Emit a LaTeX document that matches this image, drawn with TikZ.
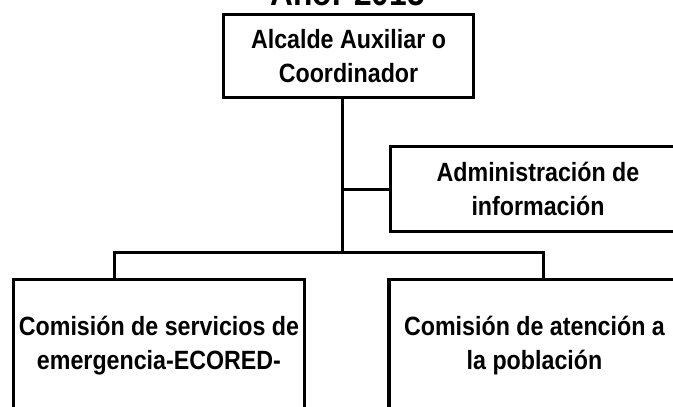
\documentclass[tikz,border=0pt]{standalone}
\usepackage{fontspec}
\setmainfont{Liberation Sans}[FakeStretch=0.88]
\usepackage{tikz}
\usetikzlibrary{positioning}
\tikzstyle{orgbox} = [rectangle,
line width=3.2pt,
draw=black,
text centered,
align=center,
font=\fontsize{26.4}{34.5}\selectfont\bfseries]
\tikzstyle{heading} = [anchor=base,
font=\fontsize{36}{40}\selectfont\bfseries]
\tikzstyle{connector} = [line width=3pt]

\begin{document}
\begin{tikzpicture}[x=1pt, y=-1pt]

\useasboundingbox (0,0) rectangle (673,407);
\clip (0,0) rectangle (673,407);

\node (title) [heading] at (347.5,5) {Año: 2015};
\node (alcalde) [orgbox, minimum width=250pt, minimum height=83pt] at (348.5,56) {Alcalde Auxiliar o\\Coordinador};
\node (info) [orgbox, minimum width=295pt, minimum height=85pt] at (538,189) {Administración de\\información};
\node (ecored) [orgbox, minimum width=291pt, minimum height=132pt] at (159,345.6) {Comisión de servicios de\\emergencia-ECORED-};
\node (poblacion) [orgbox, minimum width=291pt, minimum height=132pt] at (534.5,345.6) {Comisión de atención a\\la población};

\coordinate (split) at (342,252);
\coordinate (busL) at (114,252);
\coordinate (busR) at (543,252);

\draw [connector] (split |- alcalde.south) -- (split);
\draw [connector] (info.west) -- (info.west -| split);
\draw [connector] (busL |- ecored.north) -- (busL) -- (busR) -- (busR |- poblacion.north);

\end{tikzpicture}
\end{document}
